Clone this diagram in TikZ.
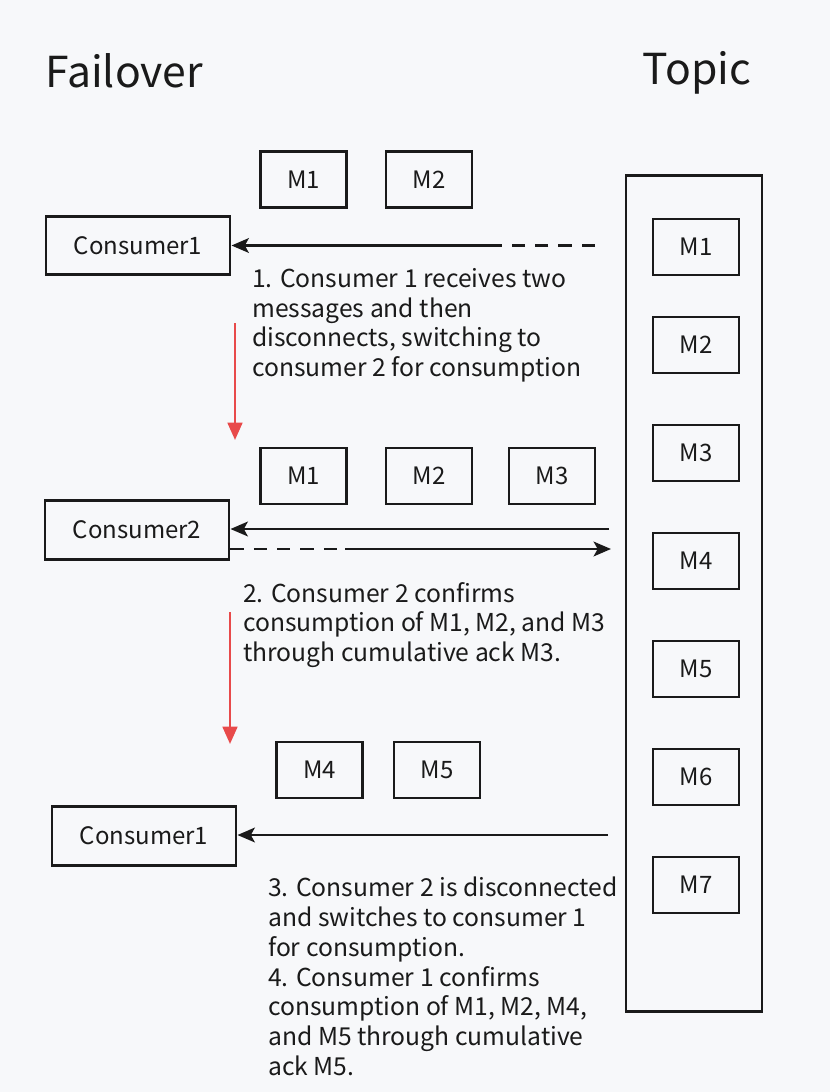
\documentclass[tikz,border=0pt]{standalone}
\usepackage{fontspec}
\setmainfont{Noto Sans CJK SC}
\usetikzlibrary{arrows.meta}
\definecolor{bg}{HTML}{F7F8FA}
\definecolor{ink}{HTML}{1A1A1A}
\definecolor{redarr}{HTML}{E84A4A}
\tikzset{
  box/.style={draw=ink, line width=2.2pt, inner sep=0pt, font=\fontsize{18}{21}\selectfont, text=ink},
  msg/.style={box, minimum width=64.5pt, minimum height=42pt},
  cons/.style={box, minimum width=138pt, minimum height=44pt},
  note/.style={anchor=north west, align=left, inner sep=0pt, text=ink, font=\fontsize{18.5}{22.3}\selectfont},
  head/.style={inner sep=0pt, text=ink, font=\fontsize{32}{36}\selectfont},
  conn/.style={draw=ink, line width=2pt},
  flow/.style={draw=redarr, line width=2pt, -{Triangle[length=13pt,width=11pt]}},
  tip/.style={-{Stealth[length=13pt,width=11pt,inset=3pt]}},
  dsh/.style={dash pattern=on 10pt off 7.5pt}
}
\begin{document}
\begin{tikzpicture}[x=0.75pt,y=-0.75pt]
\fill[bg] (0,0) rectangle (830,1092);
\useasboundingbox (0,0) rectangle (830,1092);
% headings
\node[head, anchor=west] (hfail) at (45,71) {Failover};
\node[head] (htopic) at (697,73) {Topic};
% topic column
\node[draw=ink, line width=2.2pt, minimum width=102pt, minimum height=627pt, inner sep=0pt] (topic) at (694,593.5) {};
\node[msg] (t1) at (696,247) {M1};
\node[msg] (t2) at (696,345) {M2};
\node[msg] (t3) at (696,453) {M3};
\node[msg] (t4) at (696,561) {M4};
\node[msg] (t5) at (696,669) {M5};
\node[msg] (t6) at (696,777) {M6};
\node[msg] (t7) at (696,885) {M7};
% step 1
\node[msg] (a1) at (303.5,179.5) {M1};
\node[msg] (a2) at (429,179.5) {M2};
\node[cons] (c1) at (138,245.5) {Consumer1};
\coordinate (s1a) at (595,245.5);
\coordinate (s1b) at (497,245.5);
\draw[conn, dsh] (s1a) -- (s1b);
\draw[conn, tip] (s1b) -- (c1.east);
\node[note] (n1) at (252,268) {1. Consumer 1 receives two\\messages and then\\disconnects, switching to\\consumer 2 for consumption};
\coordinate (r1a) at (235,323);
\coordinate (r1b) at (235,440);
\draw[flow] (r1a) -- (r1b);
% step 2
\node[msg] (b1) at (303.5,476) {M1};
\node[msg] (b2) at (429,476) {M2};
\node[msg] (b3) at (552,476) {M3};
\node[cons] (c2) at (137,530) {Consumer2};
\coordinate (s2a) at (609,529);
\draw[conn, tip] (s2a) -- (c2.east |- s2a);
\coordinate (s2b) at (345,549);
\coordinate (s2c) at (611,549);
\draw[conn, dsh] (c2.east |- s2b) -- (s2b);
\draw[conn, tip] (s2b) -- (s2c);
\node[note] (n2) at (243,582) {2. Consumer 2 confirms\\consumption of M1, M2, and M3\\through cumulative ack M3.};
\coordinate (r2a) at (230,612);
\coordinate (r2b) at (230,744);
\draw[flow] (r2a) -- (r2b);
% step 3
\node[msg] (d4) at (319.5,770) {M4};
\node[msg] (d5) at (437,770) {M5};
\node[cons] (c3) at (144,836) {Consumer1};
\coordinate (s3a) at (608,835);
\draw[conn, tip] (s3a) -- (c3.east |- s3a);
\node[note] (n3) at (268,877) {3. Consumer 2 is disconnected\\and switches to consumer 1\\for consumption.\\4. Consumer 1 confirms\\consumption of M1, M2, M4,\\and M5 through cumulative\\ack M5.};
\end{tikzpicture}
\end{document}
